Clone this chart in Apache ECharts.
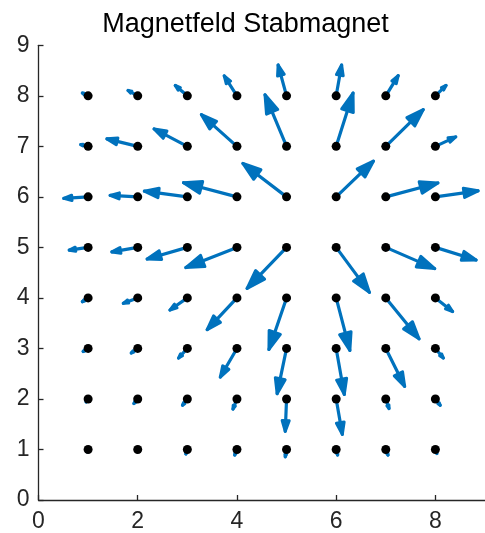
<!DOCTYPE html>
<html>
<head>
<meta charset="utf-8">
<script src="https://cdn.jsdelivr.net/npm/echarts@6/dist/echarts.min.js"></script>
<style>
html,body{margin:0;padding:0;background:#fff;}
#c{width:485px;height:533px;}
</style>
</head>
<body>
<div id="c"></div>
<script>
// Grid positions
const xs = [1, 2, 3, 4, 5, 6, 7, 8];
const ys = [1, 2, 3, 4, 5, 6, 7, 8];
// Displayed vector components, rows by y = 1..8, columns by x = 1..8
const U = [
  [-0.02, -0.01, -0.03, -0.045, -0.026, 0.03, 0.045, 0.03],
  [-0.04, -0.077, -0.097, -0.08, -0.026, 0.124, 0.065, 0.097],
  [-0.10, -0.13, -0.176, -0.335, -0.19, 0.164, 0.38, 0.16],
  [-0.116, -0.29, -0.35, -0.6, -0.355, 0.276, 0.67, 0.347],
  [-0.38, -0.52, -0.81, -1.03, -0.795, 0.67, 0.986, 0.82],
  [-0.49, -0.556, -0.866, -1.077, -0.88, 0.75, 1.05, 0.86],
  [-0.148, -0.62, -0.67, -0.716, -0.434, 0.34, 0.755, 0.41],
  [-0.116, -0.195, -0.243, -0.256, -0.17, 0.11, 0.25, 0.215]
];
const V = [
  [-0.045, -0.045, -0.09, -0.11, -0.145, -0.11, -0.11, -0.08],
  [-0.06, -0.09, -0.126, -0.2, -0.64, -0.70, -0.19, -0.126],
  [-0.06, -0.09, -0.19, -0.566, -0.895, -0.91, -0.75, -0.19],
  [-0.075, -0.107, -0.24, -0.627, -1.02, -1.04, -0.81, -0.27],
  [-0.055, -0.09, -0.23, -0.40, -0.81, -0.89, -0.42, -0.25],
  [-0.03, 0.03, 0.114, 0.28, 0.66, 0.706, 0.276, 0.12],
  [0.035, 0.148, 0.345, 0.627, 1.02, 1.055, 0.726, 0.187],
  [0.055, 0.107, 0.205, 0.395, 0.61, 0.61, 0.40, 0.205]
];
const titleText = 'Magnetfeld Stabmagnet';

const arrowData = [];
const dotData = [];
ys.forEach((y, i) => {
  xs.forEach((x, j) => {
    arrowData.push([x, y, U[i][j], V[i][j]]);
    dotData.push([x, y]);
  });
});

const blue = '#0072BD';
const axisColor = '#262626';
const font = '"Liberation Sans", Arial, Helvetica, sans-serif';

function renderArrow(params, api) {
  const x = api.value(0), y = api.value(1), u = api.value(2), v = api.value(3);
  const p0 = api.coord([x, y]);
  const p1 = api.coord([x + u, y + v]);
  const dx = p1[0] - p0[0], dy = p1[1] - p0[1];
  const alpha = 0.33, beta = 0.33;
  const h1 = [p1[0] - alpha * (dx + beta * dy), p1[1] - alpha * (dy - beta * dx)];
  const h2 = [p1[0] - alpha * (dx - beta * dy), p1[1] - alpha * (dy + beta * dx)];
  return {
    type: 'group',
    children: [
      {
        type: 'line',
        shape: { x1: p0[0], y1: p0[1], x2: p1[0], y2: p1[1] },
        style: { stroke: blue, lineWidth: 3.2, lineCap: 'round' }
      },
      {
        type: 'polygon',
        shape: { points: [h1, p1, h2] },
        style: { fill: blue, stroke: blue, lineWidth: 3, lineJoin: 'round' }
      }
    ]
  };
}

const chart = echarts.init(document.getElementById('c'), null, { renderer: 'canvas' });
chart.setOption({
  animation: false,
  backgroundColor: '#fff',
  graphic: [{
    type: 'text',
    x: 245.5,
    y: 25,
    style: {
      text: titleText,
      fill: '#000',
      font: '27px ' + font,
      align: 'center',
      verticalAlign: 'middle'
    }
  }],
  grid: { left: 38.5, top: 45.3, width: 456.3, height: 456.3, containLabel: false },
  xAxis: {
    type: 'value', min: 0, max: 9, interval: 2,
    axisLine: { show: true, lineStyle: { color: axisColor, width: 1.3 } },
    axisTick: { show: true, inside: true, length: 5, lineStyle: { color: axisColor, width: 1.3 } },
    axisLabel: { color: axisColor, fontSize: 23, fontFamily: font, margin: 10, showMaxLabel: false },
    splitLine: { show: false }
  },
  yAxis: {
    type: 'value', min: 0, max: 9, interval: 1,
    axisLine: { show: true, lineStyle: { color: axisColor, width: 1.3 } },
    axisTick: { show: true, inside: true, length: 5, lineStyle: { color: axisColor, width: 1.3 } },
    axisLabel: { color: axisColor, fontSize: 23, fontFamily: font, margin: 9 },
    splitLine: { show: false }
  },
  series: [
    {
      type: 'custom',
      renderItem: renderArrow,
      data: arrowData,
      clip: false,
      z: 2,
      silent: true
    },
    {
      type: 'scatter',
      data: dotData,
      symbol: 'circle',
      symbolSize: 9,
      itemStyle: { color: '#000', opacity: 1 },
      z: 3,
      silent: true
    }
  ]
});
</script>
</body>
</html>
